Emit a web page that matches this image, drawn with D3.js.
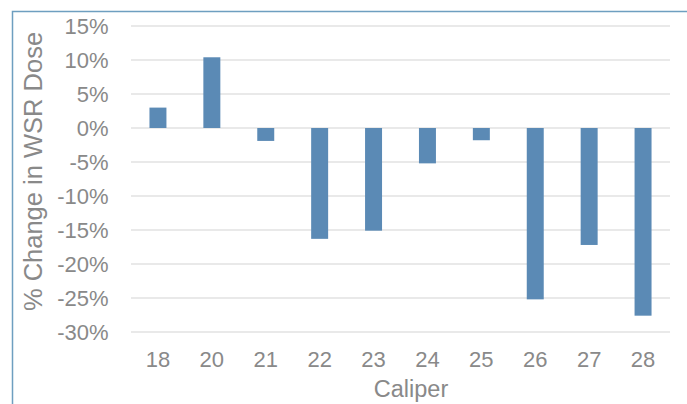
<!DOCTYPE html>
<html><head><meta charset="utf-8">
<script src="https://cdn.jsdelivr.net/npm/d3@7"></script>
<style>html,body{margin:0;padding:0;background:#fff;}svg{display:block;}</style>
</head><body>
<svg id="c" width="687" height="404"></svg>
<script>
const categories = ["18","20","21","22","23","24","25","26","27","28"];
const values = [3.0, 10.4, -1.9, -16.3, -15.1, -5.2, -1.8, -25.2, -17.2, -27.6];
const yTicks = [15,10,5,0,-5,-10,-15,-20,-25,-30];
const yTitle = "% Change in WSR Dose";
const xTitle = "Caliper";

const svg = d3.select("#c");
const font = "Liberation Sans, Arial, sans-serif";
const textColor = "#898989";
const m = {left:131, right:670, top:26, bottom:332};

// frame
svg.append("path").attr("d","M12.5,404 L12.5,11.5 L687,11.5")
  .attr("fill","none").attr("stroke","#6e9fc0").attr("stroke-width",1.5);

const x = d3.scaleBand().domain(categories).range([m.left,m.right]).paddingInner(0.685).paddingOuter(0.3425);
const y = d3.scaleLinear().domain([-30,15]).range([m.bottom,m.top]);

// grid
svg.append("g").selectAll("line").data(yTicks).join("line")
  .attr("x1",m.left).attr("x2",m.right)
  .attr("y1",d=>y(d)).attr("y2",d=>y(d))
  .attr("stroke","#e2e2e2").attr("stroke-width",1.5);

// y axis labels
const ya = svg.append("g").attr("transform",`translate(108.5,0)`)
  .call(d3.axisLeft(y).tickValues(yTicks).tickSize(0).tickPadding(0).tickFormat(d=>d+"%"));
ya.select(".domain").remove();
ya.selectAll("text").attr("font-family",font).attr("font-size",22).attr("fill",textColor).attr("dy","0.36em");

// bars
svg.append("g").selectAll("rect").data(values).join("rect")
  .attr("x",(d,i)=>x(categories[i]))
  .attr("width",x.bandwidth())
  .attr("y",d=>y(Math.max(0,d)))
  .attr("height",d=>Math.abs(y(d)-y(0)))
  .attr("fill","#5b8ab5");

// x axis labels
const xa = svg.append("g").attr("transform",`translate(0,${m.bottom})`)
  .call(d3.axisBottom(x).tickSize(0).tickPadding(0));
xa.select(".domain").remove();
xa.selectAll("text").attr("font-family",font).attr("font-size",22).attr("fill",textColor)
  .attr("dy",null).attr("y",35);

// titles
svg.append("text").attr("x",411).attr("y",397)
  .attr("text-anchor","middle").attr("font-family",font).attr("font-size",23.5).attr("fill",textColor).text(xTitle);
svg.append("text").attr("transform",`translate(41.5,171.5) rotate(-90)`)
  .attr("text-anchor","middle").attr("font-family",font).attr("font-size",25.5).attr("fill",textColor).text(yTitle);
</script>
</body></html>
